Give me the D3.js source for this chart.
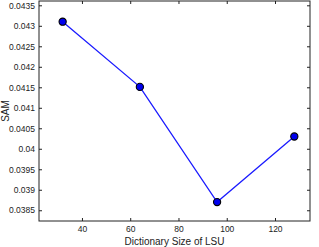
<!DOCTYPE html>
<html>
<head>
<meta charset="utf-8">
<script src="https://cdn.jsdelivr.net/npm/d3@7"></script>
<style>
  body { margin: 0; background: #fff; }
  svg text { font-family: "Liberation Sans", Arial, sans-serif; }
</style>
</head>
<body>
<div id="chart"></div>
<script>
// dictionary sizes and SAM values
var dictSizes = [32, 64, 96, 128];
var samValues = [0.0431, 0.04151, 0.0387, 0.0403];
var xTicks = [40, 60, 80, 100, 120];
var yTicks = [0.0385, 0.039, 0.0395, 0.04, 0.0405, 0.041, 0.0415, 0.042, 0.0425, 0.043, 0.0435];

var W = 319, H = 247;
var margin = {top: 1, right: 9, bottom: 26, left: 39};
var width = W - margin.left - margin.right,
    height = H - margin.top - margin.bottom;

var svg = d3.select("#chart").append("svg")
    .attr("width", W)
    .attr("height", H);

var g = svg.append("g")
    .attr("transform", "translate(" + margin.left + "," + margin.top + ")");

var xScale = d3.scaleLinear().domain([22.2, 134.5]).range([0, width]);
var yScale = d3.scaleLinear().domain([0.038238, 0.043605]).range([height, 0]);

// frame
g.append("rect")
    .attr("width", width).attr("height", height)
    .attr("fill", "none").attr("stroke", "#222").attr("stroke-width", 1);

// ticks inward on all sides
function styleAxis(sel) {
    sel.select(".domain").remove();
    sel.selectAll("line").attr("stroke", "#222");
    sel.selectAll("text").attr("fill", "#222").style("font-size", "8.5px");
}

g.append("g").attr("transform", "translate(0," + height + ")")
    .call(d3.axisBottom(xScale).tickValues(xTicks).tickSizeInner(-3).tickSizeOuter(0).tickPadding(5))
    .call(styleAxis);
g.append("g")
    .call(d3.axisTop(xScale).tickValues(xTicks).tickSizeInner(-3).tickSizeOuter(0).tickFormat(""))
    .call(styleAxis);
g.append("g")
    .call(d3.axisLeft(yScale).tickValues(yTicks).tickSizeInner(-3).tickSizeOuter(0).tickPadding(4)
        .tickFormat(d => String(+d.toFixed(4))))
    .call(styleAxis);
g.append("g").attr("transform", "translate(" + width + ",0)")
    .call(d3.axisRight(yScale).tickValues(yTicks).tickSizeInner(-3).tickSizeOuter(0).tickFormat(""))
    .call(styleAxis);

var points = dictSizes.map((d, i) => ({x: d, y: samValues[i]}));

var line = d3.line().x(d => xScale(d.x)).y(d => yScale(d.y));

g.append("path")
    .datum(points)
    .attr("fill", "none")
    .attr("stroke", "#1a1aff")
    .attr("stroke-width", 1.3)
    .attr("d", line);

g.selectAll("circle")
    .data(points)
    .enter()
    .append("circle")
    .attr("cx", d => xScale(d.x))
    .attr("cy", d => yScale(d.y))
    .attr("r", 3.6)
    .attr("fill", "#0000ee")
    .attr("stroke", "#000")
    .attr("stroke-width", 1.1);

// axis labels
svg.append("text")
    .attr("x", margin.left + width / 2)
    .attr("y", 245)
    .attr("text-anchor", "middle")
    .style("font-size", "10px")
    .attr("fill", "#222")
    .text("Dictionary Size of LSU");

svg.append("text")
    .attr("transform", "translate(8.5," + (margin.top + height / 2) + ") rotate(-90)")
    .attr("text-anchor", "middle")
    .style("font-size", "10px")
    .attr("fill", "#222")
    .text("SAM");
</script>
</body>
</html>
